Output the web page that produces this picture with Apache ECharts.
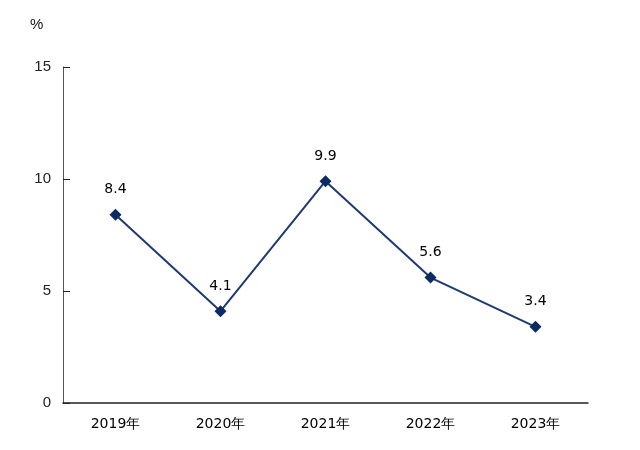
<!DOCTYPE html>
<html>
<head>
<meta charset="utf-8">
<script src="https://cdn.jsdelivr.net/npm/echarts@6/dist/echarts.min.js"></script>
<style>
  html, body { margin: 0; padding: 0; background: #fff; }
  #chart { width: 640px; height: 450px; }
</style>
</head>
<body>
<div id="chart"></div>
<script>
// 年份与增长率
var years = ['2019年', '2020年', '2021年', '2022年', '2023年'];
var rates = [8.4, 4.1, 9.9, 5.6, 3.4];
var yTicks = { min: 0, max: 15, interval: 5 };

var chart = echarts.init(document.getElementById('chart'));
chart.setOption({
  animation: false,
  grid: { left: 63, right: 52, top: 67, bottom: 47 },
  graphic: [{
    type: 'text', left: 30, top: 17,
    style: { text: '%', fontSize: 15, fill: '#111', fontFamily: 'Liberation Sans' }
  }],
  xAxis: {
    type: 'category',
    data: years,
    boundaryGap: true,
    axisLine: { lineStyle: { color: '#222', width: 1.5 } },
    axisTick: { show: false },
    axisLabel: { color: '#000', fontSize: 14, margin: 14, fontFamily: 'DejaVu Sans' }
  },
  yAxis: {
    type: 'value',
    min: yTicks.min, max: yTicks.max, interval: yTicks.interval,
    axisLine: { show: true, lineStyle: { color: '#555', width: 1 } },
    axisTick: { show: true, inside: true, length: 7, lineStyle: { color: '#222' } },
    splitLine: { show: false },
    axisLabel: { color: '#222', fontSize: 15, margin: 12, fontFamily: 'Liberation Sans' }
  },
  series: [{
    type: 'line',
    data: rates,
    symbol: 'diamond',
    symbolSize: 12,
    lineStyle: { color: '#1f3a70', width: 2 },
    itemStyle: { color: '#0c2a64' },
    label: {
      show: true, position: 'top', distance: 12,
      color: '#000', fontSize: 14, fontFamily: 'DejaVu Sans'
    }
  }]
});
</script>
</body>
</html>
